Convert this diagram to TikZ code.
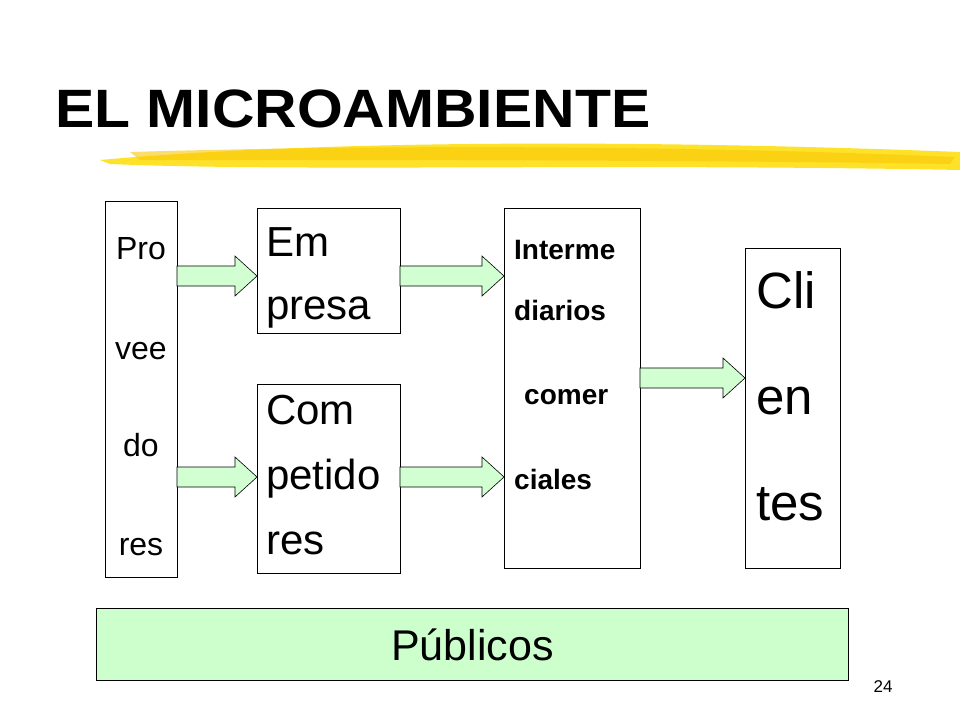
\documentclass[tikz,border=0pt]{standalone}
\usepackage{fontspec}
\setmainfont{Liberation Sans}
\begin{document}
\begin{tikzpicture}[x=1pt,y=-1pt,
  box/.style={draw,line width=0.8pt,fill=white},
  barrow/.style={draw,line width=0.6pt,fill=green!18},
  lbl/.style={anchor=base,inner sep=0pt}]
\useasboundingbox (0,0) rectangle (960,720);
\fill[white] (0,0) rectangle (960,720);
% brush stroke
\fill[yellow!80!orange,opacity=0.85] (100,160) .. controls (300,142) and (600,138) .. (960,152) -- (960,170) .. controls (600,163) and (300,172) .. (110,164) -- cycle;
\fill[yellow!60!orange,opacity=0.6] (130,152) .. controls (400,144) and (700,146) .. (955,157) -- (950,164) .. controls (700,160) and (400,160) .. (140,160) -- cycle;
\node[lbl,anchor=base west,font=\bfseries\fontsize{54}{60}\selectfont,xscale=1.09] (title) at (55,127) {EL MICROAMBIENTE};
% boxes
\node[box,minimum width=72,minimum height=376,anchor=north west] (prov) at (105,201) {};
\node[box,minimum width=143,minimum height=125,anchor=north west] (emp) at (257,208) {};
\node[box,minimum width=143,minimum height=189,anchor=north west] (comp) at (257,384) {};
\node[box,minimum width=136,minimum height=360,anchor=north west] (inter) at (504,208) {};
\node[box,minimum width=95,minimum height=320,anchor=north west] (cli) at (745,248) {};
\node[draw,line width=0.8pt,fill=green!20,minimum width=752,minimum height=72,anchor=north west,font=\fontsize{43}{48}\selectfont] (pub) at (96,608) {Públicos};
% texts
\foreach \t/\y in {Pro/259,vee/359,do/456,res/555}
  \node[lbl,font=\fontsize{32}{36}\selectfont] at (141,\y) {\t};
\foreach \t/\y in {Em/256,presa/319}
  \node[lbl,anchor=base west,font=\fontsize{42}{48}\selectfont] at (266,\y) {\t};
\foreach \t/\y in {Com/424,petido/489,res/554}
  \node[lbl,anchor=base west,font=\fontsize{42}{48}\selectfont] at (266,\y) {\t};
\foreach \t/\y/\x in {Interme/259/514,diarios/320/514,comer/404/524,ciales/489/514}
  \node[lbl,anchor=base west,font=\bfseries\fontsize{28}{30}\selectfont] at (\x,\y) {\t};
\foreach \t/\y in {Cli/308,en/414,tes/520}
  \node[lbl,anchor=base west,font=\fontsize{51}{56}\selectfont] at (756,\y) {\t};
\node[lbl,font=\fontsize{17}{20}\selectfont] (num) at (883,692) {24};
% block arrows
\foreach \xa/\xb/\yc in {177/257/276,177/257/477,400/504/276,400/504/477,640/745/378}{
  \draw[barrow] (\xa,\yc-10) -- (\xb-22,\yc-10) -- (\xb-22,\yc-20) -- (\xb,\yc) -- (\xb-22,\yc+20) -- (\xb-22,\yc+10) -- (\xa,\yc+10) -- cycle;
}
\end{tikzpicture}
\end{document}
